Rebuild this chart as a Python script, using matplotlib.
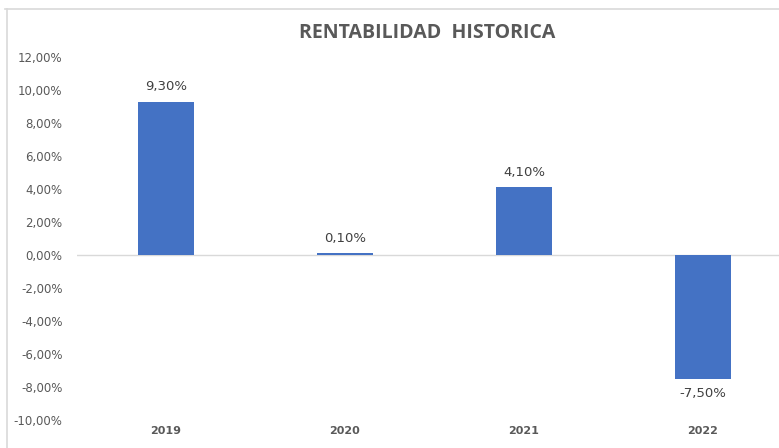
import matplotlib
matplotlib.use("Agg")
import matplotlib.pyplot as plt
from matplotlib.lines import Line2D

years = ["2019", "2020", "2021", "2022"]
rentabilidad = [9.30, 0.10, 4.10, -7.50]
yticks = [-10, -8, -6, -4, -2, 0, 2, 4, 6, 8, 10, 12]
title = "RENTABILIDAD  HISTORICA"

W, H = 779, 448
fig = plt.figure(figsize=(W / 100, H / 100), dpi=100)
fig.patch.set_facecolor("white")

ax_left = 76.5 / W
ax_width = 716 / W
ax_bottom = (H - 420) / H
ax_top = (H - 57) / H
ax = fig.add_axes([ax_left, ax_bottom, ax_width, ax_top - ax_bottom])
ax.set_facecolor("none")

x = list(range(len(years)))
bar_color = "#4472C4"
ax.bar(x, rentabilidad, width=0.31, color=bar_color, zorder=3)
ax.axhline(0, color="#d9d9d9", lw=1.0, zorder=2)

ax.set_xlim(-0.5, len(years) - 0.5)
ax.set_ylim(-10, 12)
ax.set_yticks(yticks)
ax.set_yticklabels([f"{v:.2f}".replace(".", ",") + "%" for v in yticks],
                   fontsize=8.5, color="#595959", family="DejaVu Sans")
ax.set_xticks(x)
ax.set_xticklabels(years, fontsize=8, color="#595959", fontweight="bold",
                   family="DejaVu Sans")
ax.tick_params(axis="both", length=0)
ax.tick_params(axis="y", pad=10)
ax.tick_params(axis="x", pad=4)
for s in ax.spines.values():
    s.set_visible(False)

for xi, v in zip(x, rentabilidad):
    label = f"{v:.2f}".replace(".", ",") + "%"
    if v >= 0:
        ax.annotate(label, (xi, v), xytext=(0, 6), textcoords="offset points",
                    ha="center", va="bottom", fontsize=9.5, color="#404040")
    else:
        ax.annotate(label, (xi, v), xytext=(0, -6), textcoords="offset points",
                    ha="center", va="top", fontsize=9.5, color="#404040")

fig.text(427 / W, 1 - 33 / H, title, ha="center", va="center",
         fontsize=14, fontweight="bold", color="#595959", family="Open Sans")

# chart-area frame (cropped)
fig.add_artist(Line2D([5 / W, 1], [1 - 9 / H, 1 - 9 / H], color="#d9d9d9", lw=1.2,
                      transform=fig.transFigure))
fig.add_artist(Line2D([7 / W, 7 / W], [0, 1 - 9 / H], color="#d9d9d9", lw=1.2,
                      transform=fig.transFigure))

fig.savefig("out.png", dpi=100)
